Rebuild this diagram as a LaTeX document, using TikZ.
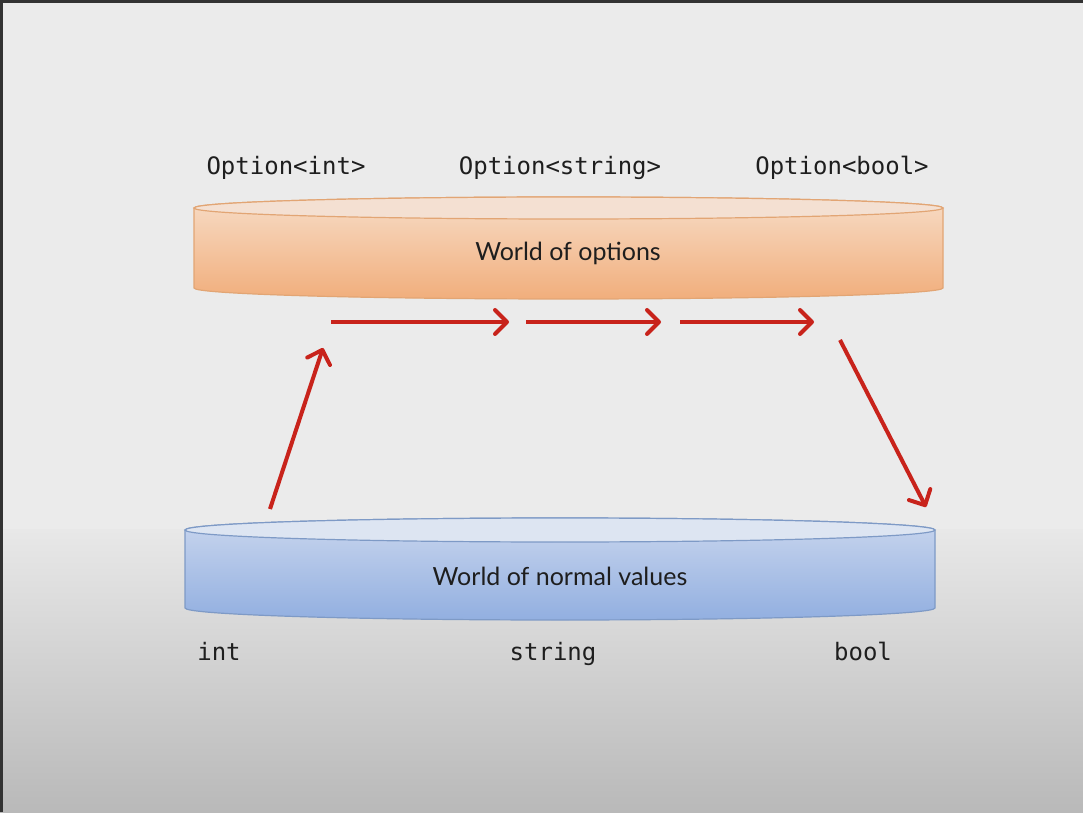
\documentclass[tikz,border=0pt]{standalone}
\usepackage{fontspec}
\setmainfont{Lato}
\setmonofont{DejaVu Sans Mono}
\usetikzlibrary{arrows.meta}
\definecolor{bgtop}{HTML}{EBEBEB}
\definecolor{bgmid}{HTML}{E8E8E8}
\definecolor{bgbot}{HTML}{B9B9B9}
\definecolor{orTop}{HTML}{F4E0D2}
\definecolor{orHi}{HTML}{F7DCC6}
\definecolor{orLo}{HTML}{F1AE7C}
\definecolor{orEdge}{HTML}{E2A574}
\definecolor{blTop}{HTML}{DDE5F2}
\definecolor{blHi}{HTML}{C9D6EE}
\definecolor{blLo}{HTML}{92AFE0}
\definecolor{blEdge}{HTML}{7E9AC6}
\definecolor{arrowred}{HTML}{C8231B}
\definecolor{txt}{HTML}{1E1E1E}
\tikzset{
  monolabel/.style={font=\ttfamily\fontsize{24}{28}\selectfont, text=txt, inner sep=0pt, anchor=base},
  worldlabel/.style={font=\fontsize{25}{29}\selectfont, text=txt, inner sep=0pt},
  redarrow/.style={draw=arrowred, line width=4pt, -{Straight Barb[length=12pt,width=24pt,line cap=round,line join=round]}}
}
\begin{document}
\begin{tikzpicture}[x=1pt,y=1pt]
\useasboundingbox (0,0) rectangle (1083,812);
% background
\fill[bgtop] (0,282) rectangle (1083,812);
\shade[top color=bgmid, bottom color=bgbot] (0,0) rectangle (1083,282.5);
\fill[black!80] (0,809) rectangle (1083,812);
\fill[black!80] (0,0) rectangle (3,812);
% orange cylinder (World of options)
\shade[top color=orHi, bottom color=orLo, draw=orEdge, line width=1.2pt]
  (194,604) -- (194,524) arc[start angle=180, end angle=360, x radius=374.5, y radius=11]
  -- (943,604) arc[start angle=0, end angle=180, x radius=374.5, y radius=11] -- cycle;
\fill[orTop, draw=orEdge, line width=1.2pt] (568.5,604) ellipse[x radius=374.5, y radius=11];
% blue cylinder (World of normal values)
\shade[top color=blHi, bottom color=blLo, draw=blEdge, line width=1.2pt]
  (185,282) -- (185,204) arc[start angle=180, end angle=360, x radius=375, y radius=12]
  -- (935,282) arc[start angle=0, end angle=180, x radius=375, y radius=12] -- cycle;
\fill[blTop, draw=blEdge, line width=1.2pt] (560,282) ellipse[x radius=375, y radius=12];
% labels
\node[worldlabel] (wopt) at (568,559) {World of options};
\node[worldlabel] (wnorm) at (560,236) {World of normal values};
\node[monolabel] (oint) at (286,637) {Option<int>};
\node[monolabel] (ostr) at (560,637) {Option<string>};
\node[monolabel] (obool) at (842,637) {Option<bool>};
\node[monolabel] (vint) at (219,152) {int};
\node[monolabel] (vstr) at (553,152) {string};
\node[monolabel] (vbool) at (863,152) {bool};
% arrow end points
\coordinate (a1s) at (270,303);
\coordinate (a1e) at (323,464);
\coordinate (a2s) at (331,490);
\coordinate (a2e) at (509,490);
\coordinate (a3s) at (526,490);
\coordinate (a3e) at (661,490);
\coordinate (a4s) at (680,490);
\coordinate (a4e) at (814,490);
\coordinate (a5s) at (840,472);
\coordinate (a5e) at (926,305);
\draw[redarrow] (a1s) -- (a1e);
\draw[redarrow] (a2s) -- (a2e);
\draw[redarrow] (a3s) -- (a3e);
\draw[redarrow] (a4s) -- (a4e);
\draw[redarrow] (a5s) -- (a5e);
\end{tikzpicture}
\end{document}
